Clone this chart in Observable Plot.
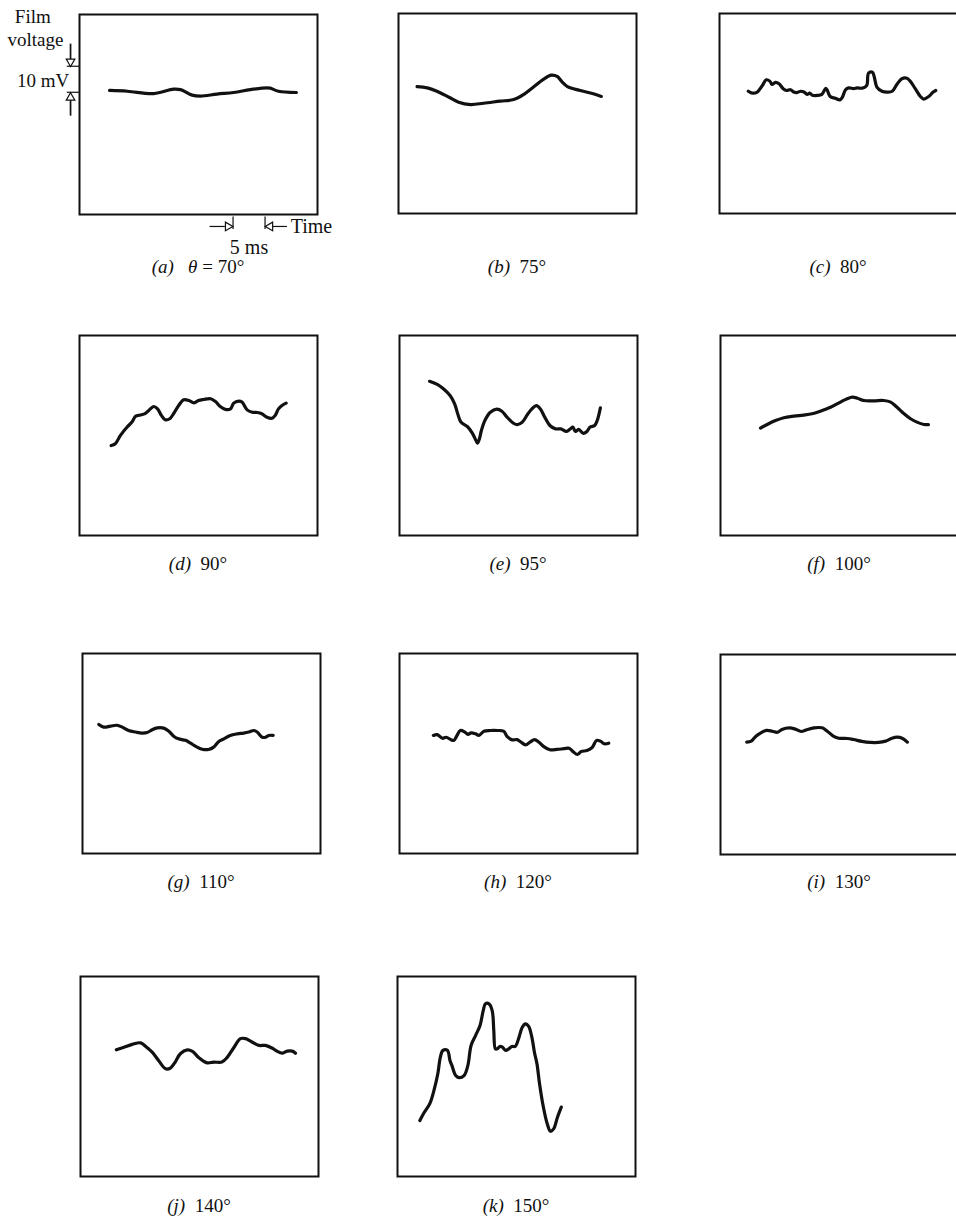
<!DOCTYPE html>
<html>
<head>
<meta charset="utf-8">
<script src="https://cdn.jsdelivr.net/npm/d3@7"></script>
<script src="https://cdn.jsdelivr.net/npm/@observablehq/plot@0.6"></script>
<style>
  html, body { margin: 0; padding: 0; background: white; }
  #page { position: relative; width: 956px; height: 1217px; overflow: hidden; background: white; }
  .panel { position: absolute; }
  .lbl { position: absolute; width: 240px; text-align: center; font-family: "Liberation Serif", "Times New Roman", serif; font-size: 19px; line-height: 19px; color: #111; white-space: nowrap; }
</style>
</head>
<body>
<div id="page"></div>
<script>
// ---------- data: film-voltage traces (time in ms, voltage in mV) ----------
const panelLetters = ["a","b","c","d","e","f","g","h","i","j","k"];
const anglesDeg = [70, 75, 80, 90, 95, 100, 110, 120, 130, 140, 150];

const t_a = [4.7,7.5,11.6,14.7,15.8,17.6,18.9,21.5,24.1,26.7,29.3,29.8,31.1,33.9];
const v_a = [47.7,47.4,46.5,48.2,48.0,45.9,45.5,46.3,46.9,48.0,48.7,48.6,47.4,46.9];

const t_b = [2.9,4.5,6.0,7.9,9.4,11.25,13.3,15.9,18.0,19.6,21.1,22.7,23.9,24.8,25.6,26.4,28.4,30.0,31.7];
const v_b = [48.8,48.3,47.0,44.7,42.8,41.9,42.4,43.2,43.8,45.8,48.6,51.7,53.2,52.7,50.5,48.8,47.3,46.3,45.0];

const t_c = [4.5,5.1,5.9,6.7,7.3,7.9,8.2,8.75,9.3,9.95,10.5,11.1,11.6,12.1,12.7,13.2,13.7,14.1,14.5,15.3,16.0,16.6,16.8,17.3,18.1,18.8,19.2,19.7,20.2,21.0,21.5,22.3,23.0,23.3,23.9,24.2,24.6,25.4,26.2,27.0,27.8,28.5,29.3,29.8,30.6,31.4,31.9,32.7,33.4,33.8];
const v_c = [47.0,46.3,46.7,49.2,51.4,50.8,49.6,50.4,49.9,48.0,47.3,47.6,46.7,46.5,47.0,46.7,45.8,46.3,45.5,45.4,45.8,48.1,47.6,45.0,44.3,43.7,44.7,47.6,48.3,48.0,48.3,48.2,49.2,54.0,54.3,52.4,48.6,47.0,46.7,47.0,49.9,51.8,52.0,50.9,48.0,45.0,44.0,45.0,46.7,47.3];

const t_d = [4.95,5.6,6.4,7.45,8.2,8.75,9.5,10.3,11.1,11.6,12.2,12.8,13.4,14.1,14.7,15.5,16.3,17.1,17.9,18.6,19.4,20.5,21.25,22.0,22.8,23.6,24.1,24.9,25.4,26.2,27.0,27.8,28.5,29.3,30.1,30.6,31.1,31.7,32.3];
const v_d = [34.6,35.3,38.5,41.7,43.6,45.8,46.3,47.0,48.7,49.6,48.7,46.2,44.5,44.9,46.8,50.0,52.2,51.9,51.0,51.9,52.3,52.6,51.5,49.6,48.5,48.7,50.9,51.7,51.3,48.3,47.4,47.3,46.8,45.5,45.1,46.2,48.7,50.1,50.9];

const t_e = [4.7,5.9,6.9,7.9,8.6,9.1,9.6,10.6,11.4,12.0,12.2,12.5,12.8,13.4,14.2,15.2,16.0,16.8,17.8,18.4,19.2,20.0,20.7,21.4,22.0,22.7,23.5,24.4,25.2,26.1,26.7,27.1,27.5,28.0,28.7,29.3,29.8,30.5,30.9,31.4];
const v_e = [59.3,58.1,56.3,53.8,50.7,46.8,43.6,41.9,39.3,36.3,35.5,37.2,40.4,44.5,47.4,48.6,47.8,45.5,43.2,42.6,43.6,46.5,48.7,49.9,48.7,45.5,42.3,41.0,41.0,40.0,41.0,41.7,40.0,40.8,39.3,40.0,41.7,42.3,44.2,49.1];

const t_f = [6.25,7.3,8.6,9.9,11.5,13.0,14.3,15.6,17.2,18.75,19.8,20.6,21.4,22.4,24.0,25.5,26.6,27.6,28.6,29.7,30.7,31.8,32.5];
const v_f = [41.3,42.7,44.2,45.3,45.9,46.3,46.8,47.8,49.3,51.3,52.6,53.2,52.8,51.9,51.8,51.9,51.3,49.3,47.0,44.9,43.6,42.7,42.6];

const t_g = [2.55,3.3,4.4,5.4,6.2,7.2,8.3,9.3,10.1,10.9,11.7,12.7,13.5,14.3,15.0,16.1,16.9,17.7,18.7,19.7,20.5,21.3,22.1,23.1,24.2,25.2,26.0,26.8,27.3,28.1,28.6,29.1,29.8];
const v_g = [49.6,48.6,49.0,49.3,48.6,47.3,46.7,46.3,46.5,47.6,48.3,48.2,47.0,45.0,44.1,43.5,42.4,41.2,40.1,40.0,40.9,43.1,44.1,45.4,46.0,46.3,46.7,47.3,46.7,44.7,44.7,45.4,45.4];

const t_h = [5.3,5.9,6.7,7.3,8.0,8.5,9.0,9.5,10.2,10.7,11.2,11.9,12.4,13.2,14.2,15.3,16.3,16.8,17.6,18.4,19.0,19.7,20.4,21.1,21.8,22.5,23.5,24.6,25.7,26.5,27.2,27.8,28.4,29.3,30.1,30.8,31.4,32.0,32.7];
const v_h = [45.4,45.7,44.3,44.7,43.8,43.5,45.4,47.3,46.7,45.8,46.4,46.0,45.4,47.0,47.3,47.3,47.0,45.0,43.7,43.8,42.8,41.8,42.8,43.8,42.8,41.2,39.9,40.0,40.3,40.5,39.0,38.1,39.2,39.6,40.7,43.5,43.2,42.2,42.4];

const t_i = [4.1,4.8,5.5,6.25,7.2,8.1,8.9,9.6,10.8,11.7,12.6,13.5,14.6,15.9,16.7,17.7,18.5,19.8,20.8,22.1,23.4,24.7,25.8,26.8,27.6,28.4,29.2];
const v_i = [43.2,43.6,45.4,46.7,47.7,47.4,47.0,48.1,48.7,48.2,47.3,48.0,48.7,48.7,47.4,45.4,44.7,44.6,44.2,43.5,43.1,43.1,43.6,44.7,45.1,44.7,43.2];

const t_j = [5.6,6.8,8.1,9.4,10.2,11.2,12.2,13.3,14.1,14.8,15.6,16.7,17.5,18.5,19.8,20.8,22.1,22.9,24.0,25.0,25.8,26.8,27.9,28.9,30.0,30.7,31.5,32.3,33.1,33.6];
const v_j = [48.7,49.7,50.8,51.4,50.0,47.8,44.6,41.4,41.8,44.0,47.2,48.7,48.1,45.7,43.7,44.0,44.0,45.7,49.7,53.0,53.0,51.7,50.4,50.4,49.3,48.2,47.4,48.2,48.2,47.4];

const t_k = [3.5,4.1,5.05,5.7,6.3,6.7,7.1,7.8,8.2,8.5,9.1,9.6,10.4,11.0,11.5,12.2,12.9,13.4,13.75,14.3,14.8,15.05,15.3,15.6,16.0,16.4,16.9,17.4,17.9,18.4,19.0,19.5,20.0,20.5,21.0,21.4,21.8,22.2,22.8,23.4,23.9,24.4,25.0,25.6];
const v_k = [21.5,24.3,28.0,33.1,39.5,45.9,48.5,48.5,44.6,42.7,38.8,38.0,38.8,42.7,50.4,54.2,58.1,63.8,66.4,66.4,63.8,56.2,49.1,49.1,50.0,49.7,48.5,49.1,50.0,50.0,53.6,57.4,58.7,57.7,53.6,47.8,43.3,35.7,26.7,20.3,17.4,18.3,22.8,26.7];

// screen extent (oscilloscope frame) and calibration marks
const screenTimeMS = [0, 37.2];
const screenVoltMV = [0, 76.9];
const voltScaleMV = [47, 57];   // 10 mV bar
const timeScaleMS = [24, 29];   // 5 ms bar

const times = [t_a,t_b,t_c,t_d,t_e,t_f,t_g,t_h,t_i,t_j,t_k];
const volts = [v_a,v_b,v_c,v_d,v_e,v_f,v_g,v_h,v_i,v_j,v_k];

// ---------- layout ----------
const BOX_W = 238, BOX_H = 200;
const ML = 90, MR = 60, MT = 20, MB = 60;
const boxPos = [
  [79,14],[398,13],[719,13],
  [79,335],[399,335],[720,335],
  [82,653],[399,653],[720,654],
  [80,976],[397,976]
];
const labelBaseline = [273, 273, 273, 570, 570, 570, 888, 888, 888, 1212, 1212];
const serif = "Liberation Serif, Times New Roman, serif";

const page = document.getElementById("page");

times.forEach((t, i) => {
  const rows = t.map((x, k) => ({t: x, v: volts[i][k]}));
  const marks = [
    Plot.frame({stroke: "#111", strokeWidth: 2}),
    Plot.line(rows, {x: "t", y: "v", curve: "catmull-rom", stroke: "#111", strokeWidth: 3.2, strokeLinecap: "round", strokeLinejoin: "round"})
  ];
  if (i === 0) {
    const tri = {fill: "white", stroke: "#111", strokeWidth: 1.2, r: 3.2, symbol: "triangle"};
    marks.push(
      // 10 mV calibration
      Plot.ruleY(voltScaleMV, {x1: -1.9, x2: 0, stroke: "#111", strokeWidth: 1.2}),
      Plot.ruleX([-1.4], {y1: voltScaleMV[1] + 2.6, y2: voltScaleMV[1] + 8.5, stroke: "#111", strokeWidth: 1.7}),
      Plot.dot([voltScaleMV[1] + 1.8], {x: () => -1.4, y: d => d, rotate: 180, ...tri}),
      Plot.ruleX([-1.4], {y1: voltScaleMV[0] - 3.1, y2: voltScaleMV[0] - 9.2, stroke: "#111", strokeWidth: 1.7}),
      Plot.dot([voltScaleMV[0] - 2.1], {x: () => -1.4, y: d => d, rotate: 0, ...tri}),
      // 5 ms calibration
      Plot.ruleX(timeScaleMS, {y1: -1.0, y2: -5.8, stroke: "#111", strokeWidth: 1.2}),
      Plot.ruleY([-4.6], {x1: timeScaleMS[0] - 3.6, x2: timeScaleMS[0] - 1.2, stroke: "#111", strokeWidth: 1.2}),
      Plot.dot([timeScaleMS[0] - 0.8], {x: d => d, y: () => -4.6, rotate: 90, ...tri}),
      Plot.ruleY([-4.6], {x1: timeScaleMS[1] + 1.2, x2: timeScaleMS[1] + 3.5, stroke: "#111", strokeWidth: 1.2}),
      Plot.dot([timeScaleMS[1] + 0.8], {x: d => d, y: () => -4.6, rotate: -90, ...tri}),
      // texts
      Plot.text(["Film"], {x: () => -7.3, y: () => 76.1, text: d => d, fontFamily: serif, fontSize: 19, fill: "#111"}),
      Plot.text(["voltage"], {x: () => -6.9, y: () => 67.3, text: d => d, fontFamily: serif, fontSize: 19, fill: "#111"}),
      Plot.text(["10 mV"], {x: () => -1.6, y: () => (voltScaleMV[0] + voltScaleMV[1]) / 2 - 0.8, text: d => d, textAnchor: "end", fontFamily: serif, fontSize: 19, fill: "#111"}),
      Plot.text(["Time"], {x: () => 33.0, y: () => -4.6, text: d => d, textAnchor: "start", fontFamily: serif, fontSize: 20, fill: "#111"}),
      Plot.text(["5 ms"], {x: () => (timeScaleMS[0] + timeScaleMS[1]) / 2, y: () => -12.8, text: d => d, fontFamily: serif, fontSize: 20, fill: "#111"})
    );
  }
  const svg = Plot.plot({
    width: BOX_W + ML + MR,
    height: BOX_H + MT + MB,
    marginLeft: ML, marginRight: MR, marginTop: MT, marginBottom: MB,
    x: {domain: screenTimeMS, axis: null},
    y: {domain: screenVoltMV, axis: null},
    style: {background: "transparent", overflow: "visible", maxWidth: "none"},
    marks
  });
  const holder = document.createElement("div");
  holder.className = "panel";
  holder.style.left = (boxPos[i][0] - ML) + "px";
  holder.style.top = (boxPos[i][1] - MT) + "px";
  holder.appendChild(svg);
  page.appendChild(holder);

  const lbl = document.createElement("div");
  lbl.className = "lbl";
  const cx = boxPos[i][0] + BOX_W / 2;
  lbl.style.left = (cx - 120) + "px";
  lbl.style.top = (labelBaseline[i] - 16) + "px";
  if (i === 0) {
    lbl.innerHTML = `<i>(${panelLetters[i]})</i>&ensp; <i>θ</i> = ${anglesDeg[i]}°`;
  } else {
    lbl.innerHTML = `<i>(${panelLetters[i]})</i>&ensp;${anglesDeg[i]}°`;
  }
  page.appendChild(lbl);
});
</script>
</body>
</html>
